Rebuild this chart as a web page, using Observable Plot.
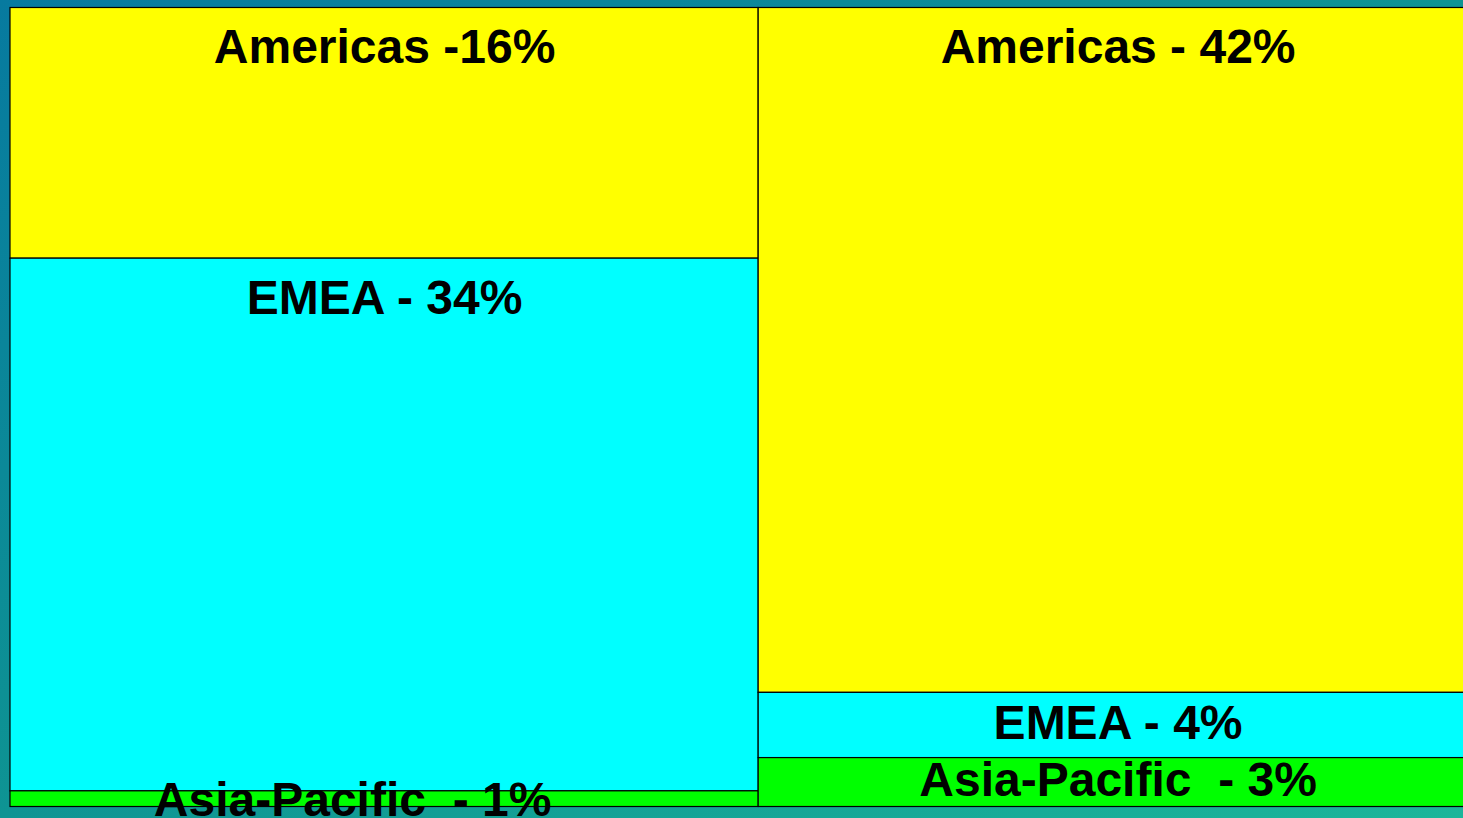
<!DOCTYPE html>
<html>
<head>
<meta charset="utf-8">
<script src="https://cdn.jsdelivr.net/npm/d3@7"></script>
<script src="https://cdn.jsdelivr.net/npm/@observablehq/plot@0.6"></script>
<style>
  html, body { margin: 0; padding: 0; width: 1463px; height: 818px; overflow: hidden; }
  body { background: linear-gradient(to bottom right, #077a9f 0%, #0e9493 50%, #1bb69a 100%); }
  #chart svg { display: block; }
  #chart svg text { white-space: pre; }
</style>
</head>
<body>
<div id="chart"></div>
<script>
// Data
const columns = ["Left", "Right"];
const regions = ["Americas", "EMEA", "Asia-Pacific"];
const leftValues = [16, 34, 1];
const rightValues = [42, 4, 3];
const leftLabels = ["Americas -16%", "EMEA - 34%", "Asia-Pacific  - 1%"];
const rightLabels = ["Americas - 42%", "EMEA - 4%", "Asia-Pacific  - 3%"];
const regionColors = ["#ffff00", "#00ffff", "#00ff00"];

const seriesValues = [leftValues, rightValues];
const seriesLabels = [leftLabels, rightLabels];

// Build marimekko cells (column width = column total, height = share within column)
const cells = [];
let xStart = 0;
columns.forEach((col, ci) => {
  const vals = seriesValues[ci];
  const total = d3.sum(vals);
  let cum = 0;
  vals.forEach((v, ri) => {
    const share = v / total;
    cells.push({
      column: col,
      region: regions[ri],
      label: seriesLabels[ci][ri],
      x1: xStart, x2: xStart + total,
      y1: cum, y2: cum + share,
      share,
      shiftLeft: ci === 0 && ri === 2
    });
    cum += share;
  });
  xStart += total;
});

const tall = cells.filter(d => d.share > 0.2);
const short = cells.filter(d => d.share <= 0.2);

const font = "'Liberation Sans', Arial, Helvetica, sans-serif";

const chart = Plot.plot({
  width: 1463,
  height: 818,
  margin: 0,
  style: { background: "transparent", overflow: "hidden" },
  x: { domain: [0, 100], range: [10, 1477], axis: null },
  y: { domain: [0, 1], range: [7.5, 806.5], axis: null },
  color: { domain: regions, range: regionColors },
  marks: [
    Plot.rect(cells, {
      x1: "x1", x2: "x2", y1: "y1", y2: "y2",
      fill: "region", stroke: "#000", strokeWidth: 1.2
    }),
    Plot.text(tall, {
      x: d => (d.x1 + d.x2) / 2, y: "y1", text: "label",
      lineAnchor: "top", dy: 21,
      fontSize: 48, fontWeight: "bold", fontFamily: font, fill: "#000"
    }),
    Plot.text(short.filter(d => !d.shiftLeft), {
      x: d => (d.x1 + d.x2) / 2, y: d => (d.y1 + d.y2) / 2, text: "label",
      lineAnchor: "middle", dy: -2,
      fontSize: 48, fontWeight: "bold", fontFamily: font, fill: "#000"
    }),
    Plot.text(short.filter(d => d.shiftLeft), {
      x: d => (d.x1 + d.x2) / 2, y: d => (d.y1 + d.y2) / 2, text: "label",
      lineAnchor: "middle", dy: 1, dx: -32,
      fontSize: 48, fontWeight: "bold", fontFamily: font, fill: "#000"
    })
  ]
});
document.getElementById("chart").appendChild(chart);
</script>
</body>
</html>
